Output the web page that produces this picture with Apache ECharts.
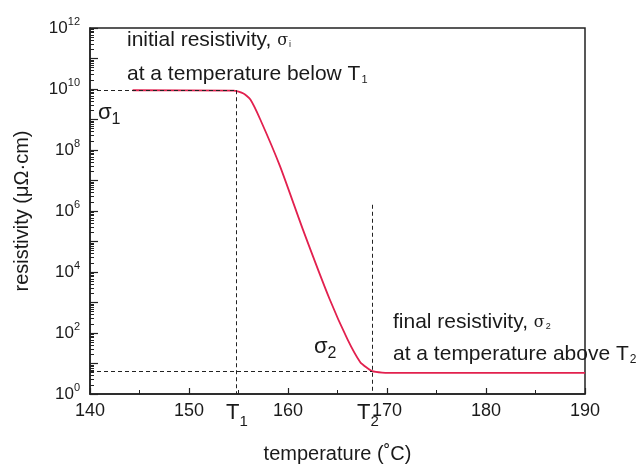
<!DOCTYPE html>
<html><head><meta charset="utf-8">
<script src="https://cdn.jsdelivr.net/npm/echarts@6/dist/echarts.min.js"></script>
<style>html,body{margin:0;padding:0;background:#fff}#c{width:643px;height:469px}</style>
</head><body><div id="c"></div>
<script>
// temperature (°C)
const temps = [144.3, 154.5, 155.5, 156.2, 157.2, 159.2, 161.5, 164.2, 166.0, 167.3, 168.0, 168.5, 169.5, 170.3, 190];
// resistivity (μΩ·cm)
const resist = [9.1e9, 8.9e9, 7.1e9, 4.5e9, 1.0e9, 2.9e7, 2.5e5, 1.3e3, 63, 11, 7.1, 5.6, 5.0, 4.9, 4.9];
// reference levels
const T1 = 154.8, T2 = 168.5;
const sigma1 = 9.1e9, sigma2 = 5.6;
const T2LineTop = 1.6e6;
const xTicks = [140, 150, 160, 170, 180, 190];

const chart = echarts.init(document.getElementById('c'));
const F = 'Liberation Sans, Arial, sans-serif';
const txt = '#1a1a1a';
const dash = {type: [4, 3], color: '#222', width: 1};
chart.setOption({
  animation: false,
  grid: {left: 90, right: 58, top: 28, bottom: 74, show: true, borderColor: '#222', borderWidth: 1.5, backgroundColor: 'transparent'},
  xAxis: {
    type: 'value', min: xTicks[0], max: xTicks[xTicks.length - 1], interval: 10,
    name: 'temperature (˚C)', nameLocation: 'middle', nameGap: 50,
    nameTextStyle: {fontFamily: F, fontSize: 20, color: txt},
    axisLine: {lineStyle: {color: '#222', width: 1.5}},
    axisTick: {inside: true, length: 6, lineStyle: {color: '#222', width: 1.2}},
    minorTick: {show: true, splitNumber: 2, length: 4, lineStyle: {color: '#222'}},
    axisLabel: {fontFamily: F, fontSize: 18, color: txt, margin: 8},
    splitLine: {show: false}
  },
  yAxis: {
    type: 'log', logBase: 10, min: 1, max: 1e12, interval: 1,
    name: 'resistivity (μΩ·cm)', nameLocation: 'middle', nameGap: 58,
    nameTextStyle: {fontFamily: F, fontSize: 20, color: txt},
    axisLine: {lineStyle: {color: '#222', width: 1.5}},
    axisTick: {inside: true, length: 8, lineStyle: {color: '#222', width: 1.2}},
    minorTick: {show: true, splitNumber: 9, length: 4, lineStyle: {color: '#222'}},
    axisLabel: {
      fontFamily: F, fontSize: 17, color: txt, margin: 10,
      formatter: function (v) {
        const e = Math.round(Math.log10(v));
        if (e % 2) return '';
        return '10{s|' + e + '}';
      },
      rich: {s: {fontFamily: F, fontSize: 11, color: txt, padding: [0, 0, 12, 0]}}
    },
    splitLine: {show: false}
  },
  series: [{
    type: 'line', showSymbol: false, smooth: 0.2,
    data: temps.map((t, i) => [t, resist[i]]),
    lineStyle: {color: '#e2204e', width: 1.8},
    markLine: {
      silent: true, symbol: 'none', label: {show: false}, lineStyle: dash,
      data: [
        [{coord: [xTicks[0], sigma1]}, {coord: [T1, sigma1]}],
        [{coord: [T1, sigma1]}, {coord: [T1, 1]}],
        [{coord: [xTicks[0], sigma2]}, {coord: [T2, sigma2]}],
        [{coord: [T2, T2LineTop]}, {coord: [T2, 1]}]
      ]
    }
  }],
  graphic: [
    {type: 'text', left: 127, top: 30, style: {text: 'initial resistivity, {g|σ}{sub|i}', fontFamily: F, fontSize: 21, fill: txt,
      rich: {g: {fontFamily: 'DejaVu Serif', fontSize: 16, fill: txt}, sub: {fontSize: 9, fill: txt, padding: [8, 0, 0, 1]}}}},
    {type: 'text', left: 127, top: 64, style: {text: 'at a temperature below T{sub|1}', fontFamily: F, fontSize: 21, fill: txt,
      rich: {sub: {fontSize: 11, fill: txt, padding: [10, 0, 0, 1]}}}},
    {type: 'text', left: 98, top: 102, style: {text: 'σ{sub|1}', fontFamily: F, fontSize: 22, fill: txt,
      rich: {sub: {fontFamily: F, fontSize: 16, fill: txt, padding: [14, 0, 0, 0]}}}},
    {type: 'text', left: 226, top: 402, style: {text: 'T{sub|1}', fontFamily: F, fontSize: 22, fill: txt,
      rich: {sub: {fontFamily: F, fontSize: 15, fill: txt, padding: [18, 0, 0, 0]}}}},
    {type: 'text', left: 357, top: 402, style: {text: 'T{sub|2}', fontFamily: F, fontSize: 22, fill: txt,
      rich: {sub: {fontFamily: F, fontSize: 15, fill: txt, padding: [18, 0, 0, 0]}}}},
    {type: 'text', left: 314, top: 336, style: {text: 'σ{sub|2}', fontFamily: F, fontSize: 22, fill: txt,
      rich: {sub: {fontFamily: F, fontSize: 16, fill: txt, padding: [14, 0, 0, 0]}}}},
    {type: 'text', left: 393, top: 312, style: {text: 'final resistivity, {g|σ}{sub|2}', fontFamily: F, fontSize: 21, fill: txt,
      rich: {g: {fontFamily: 'DejaVu Serif', fontSize: 16, fill: txt}, sub: {fontSize: 9, fill: txt, padding: [8, 0, 0, 1]}}}},
    {type: 'text', left: 393, top: 344, style: {text: 'at a temperature above T{sub|2}', fontFamily: F, fontSize: 21, fill: txt,
      rich: {sub: {fontSize: 12, fill: txt, padding: [10, 0, 0, 1]}}}}
  ]
});
</script></body></html>
